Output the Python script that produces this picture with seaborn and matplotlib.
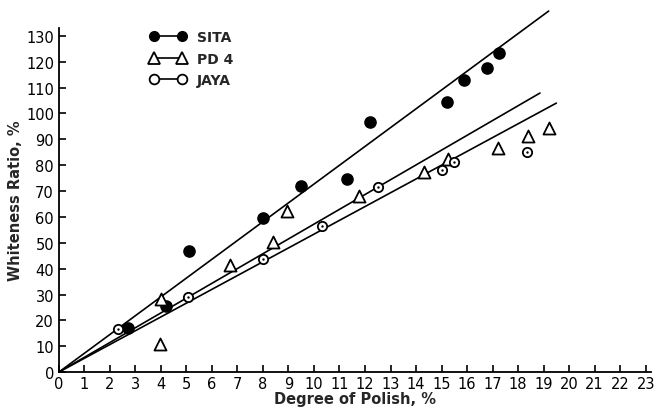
import matplotlib
matplotlib.use("Agg")
import matplotlib.pyplot as plt
import seaborn as sns
import pandas as pd
from matplotlib.lines import Line2D

# ---- data ----
sita_x = [2.7, 4.2, 5.1, 8.0, 9.5, 11.3, 12.2, 15.2, 15.9, 16.8, 17.25]
sita_y = [17, 25.5, 47, 59.6, 72, 74.7, 96.7, 104.4, 113, 117.6, 123.4]

pd4_x = [3.96, 4.0, 6.7, 8.4, 8.95, 11.76, 14.3, 15.25, 17.2, 18.4, 19.2]
pd4_y = [10.8, 28.2, 41.4, 50.2, 62.3, 68, 77.4, 82.4, 86.7, 91.4, 94.3]

jaya_x = [2.33, 5.07, 8.0, 10.3, 12.5, 15.0, 15.5, 18.35]
jaya_y = [16.6, 29, 43.7, 56.6, 71.6, 78.1, 81.2, 85]

# fitted lines through the origin (end points)
sita_fit_x = [0, 19.2]
sita_fit_y = [0, 139.6]
pd4_fit_x = [0, 18.86]
pd4_fit_y = [0, 107.9]
jaya_fit_x = [0, 19.5]
jaya_fit_y = [0, 104]

x_ticks = list(range(0, 24))
y_ticks = list(range(0, 131, 10))

sns.set_style("ticks")
plt.rcParams['font.family'] = ['DejaVu Sans']

fig = plt.figure(figsize=(6.54, 4.10), dpi=100)
ax = fig.add_axes([0.090, 0.090, 0.905, 0.839])

for fx, fy in [(sita_fit_x, sita_fit_y), (pd4_fit_x, pd4_fit_y), (jaya_fit_x, jaya_fit_y)]:
    sns.lineplot(x=fx, y=fy, ax=ax, color="black", linewidth=1.2)
for ln in ax.lines:
    ln.set_clip_on(False)

sns.scatterplot(x=sita_x, y=sita_y, ax=ax, marker="o", s=65, color="black",
                edgecolor="black", linewidth=1, zorder=5)
sns.scatterplot(x=pd4_x, y=pd4_y, ax=ax, marker="^", s=75, facecolor="white",
                edgecolor="black", linewidth=1.3, zorder=5)
sns.scatterplot(x=jaya_x, y=jaya_y, ax=ax, marker="o", s=45, facecolor="white",
                edgecolor="black", linewidth=1.3, zorder=5)
sns.scatterplot(x=jaya_x, y=jaya_y, ax=ax, marker="o", s=3, color="black",
                linewidth=0, zorder=6)

ax.set_xlim(0, 23.2)
ax.set_ylim(0, 133)
ax.set_xticks(x_ticks)
ax.set_yticks(y_ticks)
ax.tick_params(direction="in", length=5, width=1.2, labelsize=10.5, colors="black")
ax.tick_params(axis="x", pad=3)
for sp in ["top", "right"]:
    ax.spines[sp].set_visible(False)
for sp in ["left", "bottom"]:
    ax.spines[sp].set_linewidth(1.3)
    ax.spines[sp].set_color("black")

ax.set_xlabel("Degree of Polish, %", fontsize=10.5, fontweight="bold", labelpad=0)
ax.set_ylabel("Whiteness Ratio, %", fontsize=10.5, fontweight="bold", labelpad=2)

handles = [
    Line2D([0], [0], color="black", marker="o", markersize=7, markerfacecolor="black", lw=1.2),
    Line2D([0], [0], color="black", marker="^", markersize=8, markerfacecolor="white", lw=1.2, mew=1.3),
    Line2D([0], [0], color="black", marker="o", markersize=7, markerfacecolor="white", lw=1.2, mew=1.3),
]
leg = ax.legend(handles, ["SITA", "PD 4", "JAYA"], loc="upper left",
                bbox_to_anchor=(0.21, 0.955), bbox_transform=fig.transFigure,
                frameon=False, numpoints=2, handlelength=2.6,
                prop={"size": 10, "weight": "bold"},
                labelspacing=0.55, handletextpad=0.8)

fig.savefig("out.png", dpi=100)
